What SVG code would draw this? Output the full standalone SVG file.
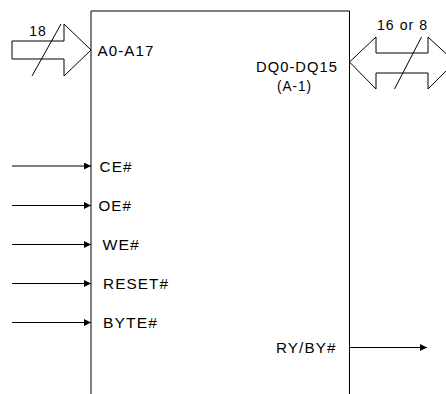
<svg xmlns="http://www.w3.org/2000/svg" width="446" height="394" viewBox="0 0 446 394">
<style>
.ln{stroke:#000;stroke-width:1;fill:none}
.bus{stroke:#000;stroke-width:1;fill:#fff}
.t{font-family:"Liberation Sans",Arial,sans-serif;font-size:14px;fill:#000;letter-spacing:1px}
</style>
<defs>
<marker id="ah" viewBox="0 0 10 10" refX="10" refY="5" markerWidth="9" markerHeight="7" markerUnits="userSpaceOnUse" orient="auto">
<path d="M0,0 L10,5 L0,10 Z" fill="#000"/>
</marker>
</defs>
<g id="chip">
<path class="ln" d="M91,394 V11 H349.5 V394"/>
<text class="t" x="97.5" y="55.5" textLength="57" lengthAdjust="spacingAndGlyphs">A0-A17</text>
<text class="t" x="256" y="71.5" textLength="82" lengthAdjust="spacingAndGlyphs">DQ0-DQ15</text>
<text class="t" x="277" y="90.5" textLength="35" lengthAdjust="spacingAndGlyphs">(A-1)</text>
<text class="t" x="99.5" y="171.5" textLength="33" lengthAdjust="spacingAndGlyphs">CE#</text>
<text class="t" x="98.5" y="210.5" textLength="33.5" lengthAdjust="spacingAndGlyphs">OE#</text>
<text class="t" x="102.5" y="249.5" textLength="37.5" lengthAdjust="spacingAndGlyphs">WE#</text>
<text class="t" x="103" y="288.7" textLength="66" lengthAdjust="spacingAndGlyphs">RESET#</text>
<text class="t" x="103" y="327.7" textLength="55" lengthAdjust="spacingAndGlyphs">BYTE#</text>
<text class="t" x="276" y="352.5" textLength="60.5" lengthAdjust="spacingAndGlyphs">RY/BY#</text>
</g>
<g id="addr-bus">
<path class="bus" d="M12,41 H64 V24 L91,50 L64,76 V59 H12 Z"/>
<line class="ln" x1="61" y1="24" x2="32" y2="76"/>
<text class="t" x="29.3" y="36" textLength="17.5" lengthAdjust="spacingAndGlyphs">18</text>
</g>
<g id="data-bus">
<path class="bus" d="M349.5,62 L376,37 V53 H428 V37 L455,62 L428,89 V73 H376 V89 Z"/>
<line class="ln" x1="421.5" y1="37" x2="394.5" y2="89"/>
<text class="t" x="377" y="29.5" textLength="51" lengthAdjust="spacingAndGlyphs">16 or 8</text>
</g>
<g id="connectors">
<line class="ln" x1="12" y1="166" x2="91" y2="166" marker-end="url(#ah)"/>
<line class="ln" x1="12" y1="205.5" x2="91" y2="205.5" marker-end="url(#ah)"/>
<line class="ln" x1="12" y1="244.5" x2="91" y2="244.5" marker-end="url(#ah)"/>
<line class="ln" x1="12" y1="283.5" x2="91" y2="283.5" marker-end="url(#ah)"/>
<line class="ln" x1="12" y1="322.5" x2="91" y2="322.5" marker-end="url(#ah)"/>
<line class="ln" x1="349.5" y1="347.5" x2="427" y2="347.5" marker-end="url(#ah)"/>
</g>
</svg>
